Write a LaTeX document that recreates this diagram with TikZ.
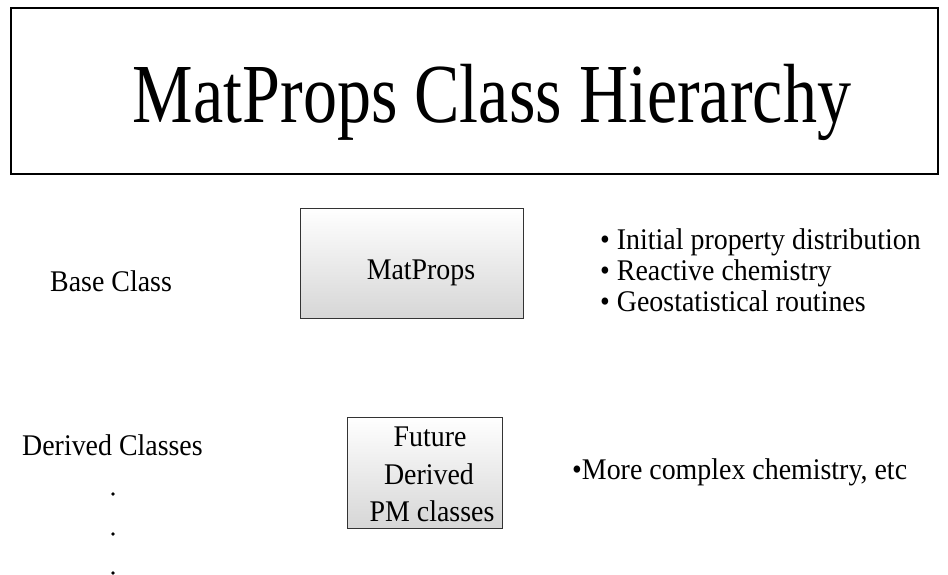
\documentclass[tikz,border=0pt]{standalone}
\usepackage{fontspec}
\setmainfont[FakeStretch=0.93]{Liberation Serif}
\newfontfamily\titlefont[FakeStretch=0.81]{Liberation Serif}
\usetikzlibrary{shadings}

\tikzset{
  x=1pt, y=-1pt,
  titlebox/.style={draw=black, line width=1.2pt, minimum width=927pt, minimum height=166pt, inner sep=0pt},
  titletext/.style={font=\titlefont\fontsize{84}{90}\selectfont, inner sep=0pt},
  body/.style={font=\fontsize{30}{36}\selectfont, inner sep=0pt},
  classbox/.style={draw=black!80, line width=0.8pt, inner sep=0pt, top color=white, bottom color=black!16},
  dotmark/.style={circle, fill=black, inner sep=0pt, minimum size=3.6pt},
}

\begin{document}
\begin{tikzpicture}
\useasboundingbox (0,0) rectangle (948,574);

% heading
\node[titlebox] (title) at (474.5,91) {};
\node[titletext, anchor=base] (titletxt) at (492,122) {MatProps Class Hierarchy};

% base class row
\node[body, anchor=base west] (baselbl) at (50,291) {Base Class};
\node[classbox, minimum width=223pt, minimum height=110pt] (matprops) at (411.5,263) {};
\node[body, anchor=base] (matpropslbl) at (421,279) {MatProps};
\node[body, anchor=base west] (b1) at (600,249) {\textbullet\ Initial property distribution};
\node[body, anchor=base west] (b2) at (600,280) {\textbullet\ Reactive chemistry};
\node[body, anchor=base west] (b3) at (600,311) {\textbullet\ Geostatistical routines};

% derived classes row
\node[body, anchor=base west] (derivedlbl) at (22,455) {Derived Classes};
\node[classbox, minimum width=155pt, minimum height=111pt] (future) at (424.5,472.5) {};
\node[body, anchor=base] (f1) at (430,446) {Future};
\node[body, anchor=base] (f2) at (429,484) {Derived};
\node[body, anchor=base] (f3) at (432,521) {PM classes};
\node[body, anchor=base west] (b4) at (572,479) {\textbullet More complex chemistry, etc};

% continuation dots
\node[dotmark] (d1) at (113,494) {};
\node[dotmark] (d2) at (113,534) {};
\node[dotmark] (d3) at (113,573) {};
\end{tikzpicture}
\end{document}
